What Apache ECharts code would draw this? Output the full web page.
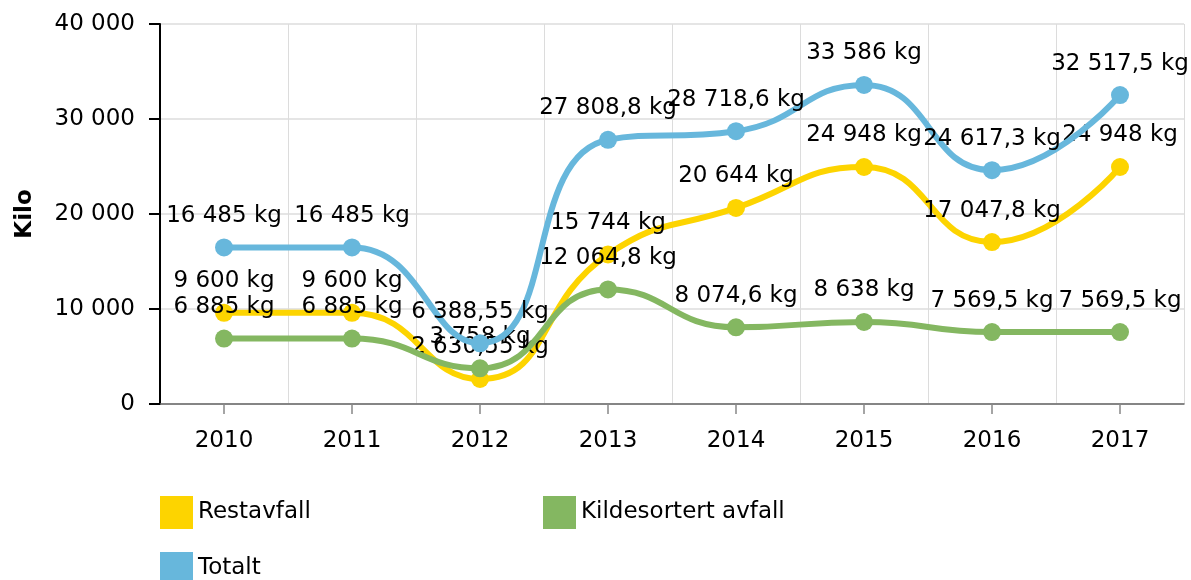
<!DOCTYPE html>
<html>
<head>
<meta charset="utf-8">
<script src="https://cdn.jsdelivr.net/npm/echarts@6/dist/echarts.min.js"></script>
<style>
html,body{margin:0;padding:0;background:#fff;}
#chart{width:1191px;height:580px;}
</style>
</head>
<body>
<div id="chart"></div>
<script>
const years = ['2010','2011','2012','2013','2014','2015','2016','2017'];
const restavfall = [9600, 9600, 2630.55, 15744, 20644, 24948, 17047.8, 24948];
const kildesortert = [6885, 6885, 3758, 12064.8, 8074.6, 8638, 7569.5, 7569.5];
const totalt = [16485, 16485, 6388.55, 27808.8, 28718.6, 33586, 24617.3, 32517.5];
const seriesNames = ['Restavfall', 'Kildesortert avfall', 'Totalt'];
const seriesColors = ['#fdd400', '#84b761', '#67b7dc'];
const yTicks = { min: 0, max: 40000, interval: 10000 };
const yName = 'Kilo';
const unit = ' kg';

function fmt(v) {
  const parts = String(v).split('.');
  const intPart = parts[0].replace(/\B(?=(\d{3})+(?!\d))/g, ' ');
  return parts.length > 1 ? intPart + ',' + parts[1] : intPart;
}

const FONT = 'DejaVu Sans';
const FS = 23;

function mkSeries(name, data, color, z) {
  return {
    name: name,
    type: 'line',
    z: z,
    data: data,
    smooth: true,
    symbol: 'circle',
    symbolSize: 18,
    lineStyle: { width: 6, color: color },
    itemStyle: { color: color },
    label: {
      show: true,
      position: 'top',
      distance: 11,
      color: '#000',
      fontFamily: FONT,
      fontSize: FS,
      formatter: p => fmt(p.value) + unit
    },
    emphasis: { disabled: true }
  };
}

function mkLegend(name, left, top) {
  return {
    data: [name],
    left: left,
    top: top,
    padding: 0,
    orient: 'horizontal',
    icon: 'rect',
    itemWidth: 33,
    itemHeight: 33,
    itemTextGap: 10,
    selectedMode: false,
    textStyle: { color: '#000', fontFamily: FONT, fontSize: FS }
  };
}

const chart = echarts.init(document.getElementById('chart'), null, { renderer: 'canvas' });
chart.setOption({
  animation: false,
  backgroundColor: '#fff',
  textStyle: { fontFamily: FONT },
  grid: { left: 160, right: 7, top: 24, bottom: 176, containLabel: false },
  legend: [
    mkLegend(seriesNames[0], 160, 496),
    mkLegend(seriesNames[1], 543, 496),
    mkLegend(seriesNames[2], 160, 552)
  ],
  xAxis: {
    type: 'category',
    data: years,
    boundaryGap: true,
    axisLine: { show: true, lineStyle: { color: '#666', width: 1.5 } },
    axisTick: { show: true, alignWithLabel: true, length: 10, lineStyle: { color: '#888', width: 1.5 } },
    axisLabel: { color: '#000', fontFamily: FONT, fontSize: FS, margin: 26 },
    splitLine: { show: true, lineStyle: { color: '#dcdcdc', width: 1 } }
  },
  yAxis: {
    type: 'value',
    min: yTicks.min,
    max: yTicks.max,
    interval: yTicks.interval,
    name: yName,
    nameLocation: 'middle',
    nameGap: 123,
    nameRotate: 90,
    nameTextStyle: { color: '#000', fontFamily: FONT, fontSize: FS, fontWeight: 'bold' },
    axisLine: { show: true, lineStyle: { color: '#000', width: 2 } },
    axisTick: { show: true, length: 11, lineStyle: { color: '#000', width: 2 } },
    axisLabel: { color: '#000', fontFamily: FONT, fontSize: FS, margin: 25, formatter: v => fmt(v) },
    splitLine: { show: true, lineStyle: { color: '#dcdcdc', width: 1.5 } }
  },
  series: [
    mkSeries(seriesNames[0], restavfall, seriesColors[0], 2),
    mkSeries(seriesNames[1], kildesortert, seriesColors[1], 3),
    mkSeries(seriesNames[2], totalt, seriesColors[2], 4)
  ]
});
</script>
</body>
</html>
